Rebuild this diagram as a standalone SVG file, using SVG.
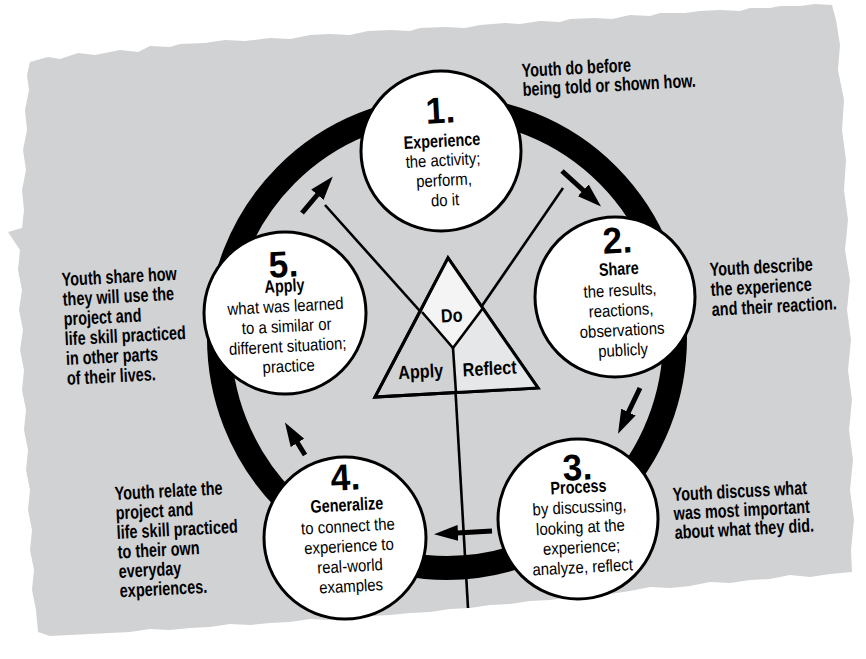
<svg xmlns="http://www.w3.org/2000/svg" width="866" height="659" viewBox="0 0 866 659">
<defs>
<style>
.bg{fill:#d1d2d4}
.ring{fill:none;stroke:#000;stroke-width:24}
.node{fill:#fff;stroke:#000;stroke-width:3}
.ln{stroke:#000;stroke-width:2.6;fill:none}
.arr{stroke:#000;stroke-width:5;fill:none;marker-end:url(#ah)}
.tri{stroke:#000;stroke-width:3;stroke-linejoin:miter}
text{font-family:"Liberation Sans",Arial,Helvetica,sans-serif;fill:#000}
.num{font-size:37px;font-weight:bold;text-anchor:middle}
.hd{font-size:18px;font-weight:bold;text-anchor:middle}
.bd{font-size:17px;text-anchor:middle}
.side{font-size:19px;font-weight:bold}
.tl{font-size:19px;font-weight:bold;text-anchor:middle}
</style>
<marker id="ah" viewBox="0 0 24 16" refX="1" refY="8" markerWidth="24" markerHeight="16" markerUnits="userSpaceOnUse" orient="auto"><path d="M0,0 L24,8 L0,16 Z" fill="#000"/></marker>
</defs>

<path class="bg" d="M30,62 L48,57 60,59 78,53 95,55 120,50 138,52 150,46 170,47 180,44 205,43 225,40 245,41 270,38 290,39 310,35 330,34 350,35 368,31 390,30 410,31 420,28 445,27 465,28 480,25 505,23 520,24 540,21 560,22 570,19 595,18 612,19 630,15 650,16 660,13 685,13 700,11 720,10 740,11 750,8 770,8 780,6 800,6 815,4 832,5 836,20 840,45 838,70 844,100 842,130 846,160 844,190 848,220 845,250 850,280 847,310 851,340 848,370 852,400 849,430 853,460 850,490 854,520 851,550 852,572 830,574 810,577 790,575 770,579 750,580 730,583 710,582 690,586 670,588 650,587 630,591 610,594 590,593 570,597 550,600 530,601 510,604 490,605 470,608 450,609 430,612 410,613 390,615 370,616 350,618 330,620 310,619 290,622 270,623 250,625 230,624 210,627 190,628 170,630 150,629 130,632 110,633 90,634 70,635 50,636 38,632 36,610 32,590 34,570 30,550 32,530 28,510 30,490 26,470 28,450 24,430 26,410 22,390 24,370 20,350 23,330 19,310 22,290 18,270 20,250 8,232 22,228 24,210 22,190 26,170 23,150 27,130 25,110 29,90 27,75 Z"/>

<g id="connectors">
<ellipse class="ring" cx="447" cy="338" rx="228" ry="230"/>
<line class="ln" x1="325" y1="205" x2="453" y2="348"/>
<line class="ln" x1="563" y1="188" x2="453" y2="348"/>
<line class="ln" x1="453" y1="348" x2="468" y2="608"/>
<line class="arr" x1="562" y1="171" x2="584" y2="191"/>
<line class="arr" x1="640" y1="388" x2="628" y2="413"/>
<line class="arr" x1="492" y1="531" x2="457" y2="533"/>
<line class="arr" x1="305" y1="455" x2="297" y2="442"/>
<line class="arr" x1="302" y1="213" x2="318" y2="194"/>
</g>

<g id="triangle">
<polygon points="448,258 375,397 538,388" fill="#d1d2d4" class="tri"/>
<polygon points="483,308 538,388 455.7,392.6 453,348" fill="#e6e7e8" stroke="none"/>
<polygon points="448,258 483,308 453,348 422,312" fill="#f4f4f4" stroke="none"/>
<polygon points="448,258 375,397 538,388" fill="none" class="tri"/>
<polyline points="422,312 453,348 483,308" class="ln"/>
<line class="ln" x1="453" y1="348" x2="456" y2="393"/>
<g transform="translate(452,322) rotate(-3) scale(0.85,1)"><text class="tl">Do</text></g>
<g transform="translate(421,378) rotate(-3) scale(0.85,1)"><text class="tl">Apply</text></g>
<g transform="translate(490,375) rotate(-3) scale(0.85,1)"><text class="tl">Reflect</text></g>
</g>

<g id="step1">
<circle class="node" cx="441" cy="151" r="80"/>
<g transform="translate(441,123) rotate(-3)">
<text class="num" transform="scale(0.95,1)">1.</text>
<text class="hd" transform="scale(0.8,1)" y="24">Experience</text>
<text class="bd" transform="scale(0.88,1)"><tspan x="0" y="43">the activity;</tspan><tspan x="0" y="63">perform,</tspan><tspan x="0" y="83">do it</tspan></text>
</g>
</g>

<g id="step2">
<circle class="node" cx="615" cy="297" r="80"/>
<g transform="translate(618,253) rotate(-3)">
<text class="num" transform="scale(0.95,1)">2.</text>
<text class="hd" transform="scale(0.8,1)" y="22">Share</text>
<text class="bd" transform="scale(0.88,1)"><tspan x="0" y="43">the results,</tspan><tspan x="0" y="63">reactions,</tspan><tspan x="0" y="83">observations</tspan><tspan x="0" y="103">publicly</tspan></text>
</g>
</g>

<g id="step3">
<circle class="node" cx="578" cy="519" r="80"/>
<g transform="translate(578,480) rotate(-3)">
<text class="num" transform="scale(0.95,1)">3.</text>
<text class="hd" transform="scale(0.8,1)" y="13">Process</text>
<text class="bd" transform="scale(0.88,1)"><tspan x="0" y="33">by discussing,</tspan><tspan x="0" y="53">looking at the</tspan><tspan x="0" y="73">experience;</tspan><tspan x="0" y="93">analyze, reflect</tspan></text>
</g>
</g>

<g id="step4">
<circle class="node" cx="345" cy="538" r="81"/>
<g transform="translate(346,490) rotate(-3)">
<text class="num" transform="scale(0.95,1)">4.</text>
<text class="hd" transform="scale(0.8,1)" y="21">Generalize</text>
<text class="bd" transform="scale(0.88,1)"><tspan x="0" y="42">to connect the</tspan><tspan x="0" y="62">experience to</tspan><tspan x="0" y="82">real-world</tspan><tspan x="0" y="102">examples</tspan></text>
</g>
</g>

<g id="step5">
<circle class="node" cx="285" cy="313" r="81"/>
<g transform="translate(284,277) rotate(-3)">
<text class="num" transform="scale(0.95,1)">5.</text>
<text class="hd" transform="scale(0.8,1)" y="15">Apply</text>
<text class="bd" transform="scale(0.88,1)"><tspan x="0" y="35">what was learned</tspan><tspan x="0" y="55">to a similar or</tspan><tspan x="0" y="75">different situation;</tspan><tspan x="0" y="95">practice</tspan></text>
</g>
</g>

<g id="note1" transform="translate(522,77) rotate(-3)">
<text class="side" transform="scale(0.76,1)"><tspan x="0" y="0">Youth do before</tspan><tspan x="0" y="19">being told or shown how.</tspan></text>
</g>
<g id="note2" transform="translate(710,276) rotate(-3)">
<text class="side" transform="scale(0.76,1)"><tspan x="0" y="0">Youth describe</tspan><tspan x="0" y="20">the experience</tspan><tspan x="0" y="40">and their reaction.</tspan></text>
</g>
<g id="note3" transform="translate(673,501) rotate(-3)">
<text class="side" transform="scale(0.76,1)"><tspan x="0" y="0">Youth discuss what</tspan><tspan x="0" y="19">was most important</tspan><tspan x="0" y="38">about what they did.</tspan></text>
</g>
<g id="note4" transform="translate(115,500) rotate(-3)">
<text class="side" transform="scale(0.76,1)"><tspan x="0" y="0">Youth relate the</tspan><tspan x="0" y="19.5">project and</tspan><tspan x="0" y="39">life skill practiced</tspan><tspan x="0" y="58.5">to their own</tspan><tspan x="0" y="78">everyday</tspan><tspan x="0" y="97.5">experiences.</tspan></text>
</g>
<g id="note5" transform="translate(62,286) rotate(-3)">
<text class="side" transform="scale(0.76,1)"><tspan x="0" y="0">Youth share how</tspan><tspan x="0" y="19.8">they will use the</tspan><tspan x="0" y="39.6">project and</tspan><tspan x="0" y="59.4">life skill practiced</tspan><tspan x="0" y="79.2">in other parts</tspan><tspan x="0" y="99">of their lives.</tspan></text>
</g>
</svg>
